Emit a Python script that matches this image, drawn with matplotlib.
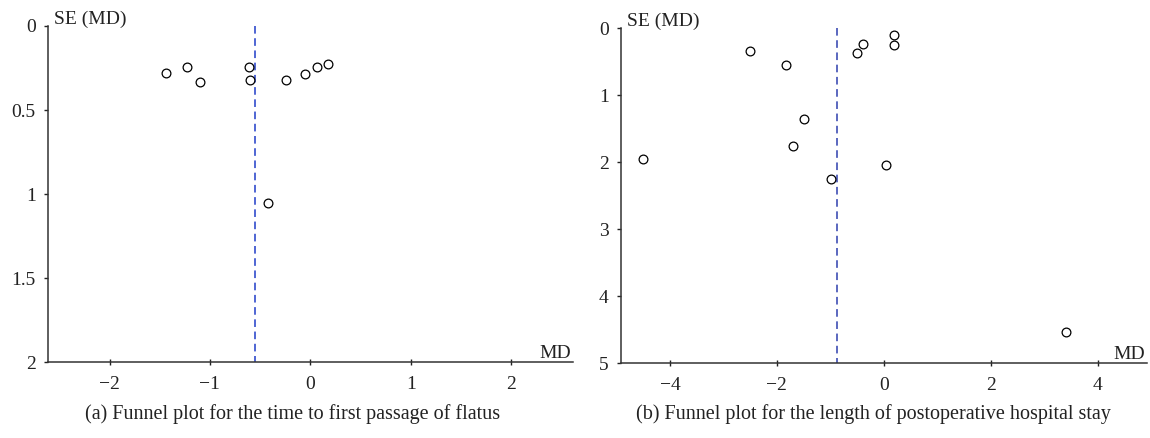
import matplotlib
matplotlib.use("Agg")
import matplotlib.pyplot as plt

plt.rcParams['font.family'] = ['Liberation Serif', 'DejaVu Serif']

# Panel (a): time to first passage of flatus
md_a = [-1.44, -1.23, -1.10, -0.61, -0.60, -0.425, -0.247, -0.049, 0.064, 0.173]
se_a = [0.278, 0.245, 0.334, 0.245, 0.324, 1.051, 0.324, 0.284, 0.245, 0.225]
pooled_a = -0.546
xticks_a = [-2, -1, 0, 1, 2]
yticks_a = [0, 0.5, 1, 1.5, 2]
yticklabels_a = ['0', '0.5', '1', '1.5', '2']
caption_a = "(a) Funnel plot for the time to first passage of flatus"

# Panel (b): length of postoperative hospital stay
md_b = [-2.50, -1.83, 0.195, 0.20, -0.38, -0.50, -1.49, -1.70, -4.50, -0.99, 0.051, 3.41]
se_b = [0.338, 0.553, 0.095, 0.254, 0.239, 0.373, 1.349, 1.761, 1.946, 2.249, 2.045, 4.533]
pooled_b = -0.874
xticks_b = [-4, -2, 0, 2, 4]
yticks_b = [0, 1, 2, 3, 4, 5]
yticklabels_b = ['0', '1', '2', '3', '4', '5']
caption_b = "(b) Funnel plot for the length of postoperative hospital stay"

fig = plt.figure(figsize=(11.5, 4.38), dpi=100)
W, H = 1150, 438
TXT = '#222222'

def make_ax(l, r, t, b):
    return fig.add_axes([l / W, 1 - b / H, (r - l) / W, (b - t) / H])

ax1 = make_ax(48.3, 573.3, 26.0, 362.3)
ax2 = make_ax(621.3, 1146.7, 28.3, 363.3)

def style(ax, md, se, pooled, xlim, ylim, xticks, yticks, yticklabels, lcolor):
    ax.plot(md, se, linestyle='none', marker='o', markersize=6.3,
            markerfacecolor='white', markeredgecolor='black', markeredgewidth=0.9,
            zorder=3)
    ax.plot([pooled, pooled], [ylim[0], ylim[1]], color=lcolor, lw=1.1,
            linestyle=(0, (5, 3)), zorder=2)
    ax.set_xlim(*xlim)
    ax.set_ylim(ylim[1], ylim[0])
    ax.set_xticks(xticks)
    ax.set_xticklabels([str(v).replace('-', '\u2212') for v in xticks])
    ax.set_yticks(yticks)
    ax.set_yticklabels(yticklabels)
    for s in ['top', 'right']:
        ax.spines[s].set_visible(False)
    for s in ['left', 'bottom']:
        ax.spines[s].set_linewidth(1.1)
        ax.spines[s].set_color('#333333')
    ax.tick_params(axis='x', direction='inout', length=4.8, width=1.0, pad=7.5,
                   labelsize=14, colors=TXT)
    ax.tick_params(axis='y', direction='out', length=3, width=1.0, pad=6,
                   labelsize=14, colors=TXT)
    ax.annotate('SE (MD)', xy=(0, 1), xycoords='axes fraction',
                xytext=(6, 2), textcoords='offset pixels',
                ha='left', va='baseline', fontsize=14, color=TXT)
    ax.annotate('MD', xy=(1, 0), xycoords='axes fraction',
                xytext=(-2, 4), textcoords='offset pixels',
                ha='right', va='baseline', fontsize=14, color=TXT)

style(ax1, md_a, se_a, pooled_a, (-2.61, 2.62), (0, 2), xticks_a, yticks_a,
      yticklabels_a, '#1f3cc8')
style(ax2, md_b, se_b, pooled_b, (-4.91, 4.92), (0, 5), xticks_b, yticks_b,
      yticklabels_b, '#2e3fae')

fig.text(292.5 / W, 1 - 419 / H, caption_a, ha='center', va='baseline',
         fontsize=14.5, color=TXT)
fig.text(873.5 / W, 1 - 419 / H, caption_b, ha='center', va='baseline',
         fontsize=14.5, color=TXT)

fig.savefig('out.png', dpi=100)
